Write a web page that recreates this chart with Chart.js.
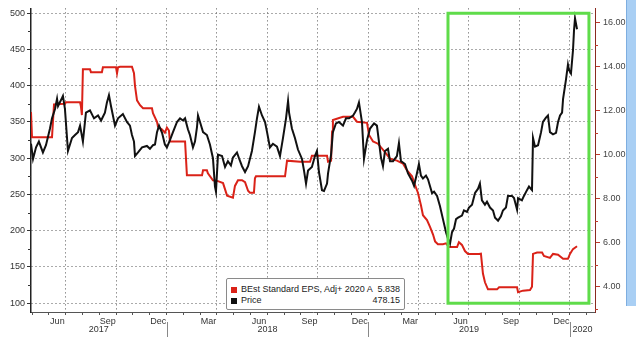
<!DOCTYPE html>
<html lang="en">
<head>
  <meta charset="UTF-8">
  <title>Price vs BEst Standard EPS</title>
  <script src="https://cdn.jsdelivr.net/npm/chart.js"></script>
  <style>
    body { margin: 0; background: #fff; font-family: "Liberation Sans", Arial, sans-serif; }
    #wrap { position: relative; width: 640px; height: 337px; overflow: hidden; }
    #bar { position: absolute; left: 626px; top: 0; width: 9px; height: 306px; background: #a9cff4; border-left: 1px solid #7eaee0; }
    #legend { position: absolute; left: 226px; top: 278px; width: 169px; height: 25px; padding: 5px 4px 0 4px;
              border: 1px solid #8a8a8a; border-radius: 2px; background: #fff; font-size: 9px; color: #222; }
    #legend .row { display: flex; align-items: center; height: 11px; line-height: 11px; }
    #legend .mark { width: 6px; height: 6px; margin-right: 4px; }
    #legend .name { flex: 1; white-space: nowrap; }
    #legend .val { text-align: right; }
  </style>
</head>
<body>
  <div id="wrap">
    <canvas id="chart" width="640" height="337"></canvas>
    <div id="bar"></div>
    <div id="legend"></div>
  </div>

  <script>
    // x = months since 1 Jan 2017
    const priceT = [
      3.93, 4.05, 4.23, 4.40, 4.64, 4.82, 5.06, 5.18, 5.36, 5.48,
      5.54, 5.77, 5.83, 5.95, 6.13, 6.37, 6.55, 6.73, 6.85, 7.02,
      7.20, 7.44, 7.68, 7.92, 8.10, 8.33, 8.45, 8.57, 8.69, 8.93,
      9.11, 9.40, 9.64, 9.82, 9.94, 10.06, 10.12, 10.30, 10.54, 10.83,
      11.01, 11.19, 11.31, 11.43, 11.55, 11.73, 11.90, 12.02, 12.20, 12.38,
      12.62, 12.80, 12.98, 13.10, 13.27, 13.39, 13.57, 13.69, 13.81, 13.87,
      13.99, 14.17, 14.40, 14.58, 14.76, 14.88, 14.94, 15.06, 15.30, 15.48,
      15.65, 15.83, 15.95, 16.19, 16.31, 16.49, 16.67, 16.85, 17.08, 17.26,
      17.38, 17.50, 17.68, 17.86, 17.98, 18.15, 18.33, 18.57, 18.75, 18.93,
      19.11, 19.23, 19.29, 19.46, 19.64, 19.82, 20.06, 20.18, 20.30, 20.42,
      20.65, 20.83, 20.95, 21.07, 21.25, 21.37, 21.55, 21.61, 21.79, 21.90,
      22.08, 22.26, 22.50, 22.68, 22.86, 23.10, 23.21, 23.33, 23.45, 23.63,
      23.75, 23.93, 24.11, 24.35, 24.52, 24.64, 24.76, 24.88, 25.00, 25.18,
      25.30, 25.48, 25.71, 25.83, 25.95, 26.19, 26.37, 26.61, 26.73, 26.90,
      27.02, 27.14, 27.26, 27.44, 27.56, 27.80, 27.92, 28.10, 28.27, 28.45,
      28.63, 28.75, 28.87, 28.99, 29.11, 29.23, 29.35, 29.58, 29.70, 29.88,
      30.00, 30.18, 30.36, 30.54, 30.65, 30.77, 30.95, 31.07, 31.25, 31.43,
      31.55, 31.73, 31.90, 32.02, 32.20, 32.32, 32.56, 32.68, 32.86, 32.92,
      33.15, 33.27, 33.45, 33.57, 33.75, 33.81, 33.93, 34.11, 34.29, 34.40,
      34.58, 34.70, 34.82, 35.00, 35.18, 35.30, 35.42, 35.54, 35.60, 35.77,
      35.89, 35.95, 36.07, 36.19, 36.25, 36.31, 36.43
    ];
    const priceV = [
      320, 299, 315, 323, 308, 318, 341, 355, 368, 382,
      372, 383, 386, 368, 310, 328, 332, 336, 345, 323,
      363, 366, 355, 359, 352, 363, 377, 387, 372, 345,
      355, 361, 350, 345, 332, 323, 303, 308, 315, 317,
      313, 318, 319, 336, 345, 335, 319, 315, 325, 336,
      350, 355, 352, 355, 340, 332, 315, 323, 343, 359,
      350, 336, 332, 319, 300, 261, 254, 305, 303, 288,
      296, 290, 301, 308, 300, 289, 281, 289, 310, 336,
      355, 371, 359, 350, 336, 315, 320, 316, 303, 328,
      355, 379, 363, 341, 328, 312, 299, 283, 265, 283,
      288, 303, 310, 281, 256, 255, 265, 279, 305, 336,
      348, 350, 345, 355, 355, 359, 363, 368, 377, 350,
      299, 325, 341, 348, 345, 323, 301, 289, 310, 313,
      296, 296, 303, 321, 296, 292, 279, 269, 262, 279,
      292, 276, 272, 276, 271, 252, 254, 248, 234, 216,
      198, 189, 182, 198, 203, 216, 218, 221, 228, 226,
      232, 236, 252, 258, 265, 242, 236, 240, 232, 228,
      218, 214, 220, 228, 232, 248, 248, 245, 229, 245,
      242, 248, 256, 261, 256, 328, 316, 318, 336, 350,
      356, 359, 336, 333, 335, 350, 359, 363, 382, 408,
      429, 422, 417, 449, 476, 493, 478
    ];

    const epsT = [
      3.93, 3.99, 5.18, 5.30, 5.95, 6.01, 6.85, 6.90, 6.96, 7.02,
      7.44, 7.50, 8.15, 8.21, 8.99, 9.05, 9.11, 9.23, 9.94, 10.06,
      10.12, 10.24, 10.42, 10.60, 11.13, 11.19, 11.43, 11.49, 11.73, 11.90,
      12.02, 12.14, 12.20, 13.10, 13.21, 14.11, 14.17, 14.40, 14.46, 14.76,
      15.06, 15.36, 15.60, 15.95, 16.07, 16.25, 16.49, 16.67, 16.85, 16.96,
      17.20, 17.26, 17.32, 19.05, 19.17, 19.94, 20.54, 20.65, 21.55, 21.61,
      21.79, 21.85, 21.90, 22.50, 23.10, 23.33, 23.93, 24.05, 24.29, 24.58,
      25.00, 25.30, 25.71, 26.07, 26.31, 26.61, 26.79, 26.96, 27.14, 27.26,
      27.50, 27.68, 27.86, 27.98, 28.15, 28.45, 28.63, 28.81, 29.29, 29.40,
      29.58, 29.76, 29.94, 30.60, 30.71, 30.83, 30.95, 31.13, 31.67, 31.79,
      32.86, 32.92, 33.21, 33.63, 33.75, 33.81, 34.05, 34.35, 34.46, 34.82,
      35.00, 35.30, 35.60, 35.89, 36.01, 36.19, 36.43
    ];
    const epsV = [
      11.94, 10.79, 10.79, 12.29, 12.32, 12.38, 12.38, 12.2, 11.8, 13.88,
      13.88, 13.75, 13.75, 13.97, 13.97, 13.7, 13.97, 14.0, 14.0, 13.7,
      13.13, 12.47, 12.25, 12.11, 12.11, 11.89, 11.5, 11.27, 11.14, 11.0,
      11.23, 11.1, 10.6, 10.6, 9.07, 9.07, 9.29, 9.29, 9.15, 8.84,
      8.80, 8.71, 8.14, 8.05, 8.58, 8.84, 8.84, 8.75, 8.36, 8.27,
      8.27, 8.93, 9.02, 9.02, 9.73, 9.68, 9.68, 9.95, 9.95, 9.68,
      9.72, 11.05, 11.58, 11.72, 11.72, 11.5, 11.45, 10.9, 10.6, 10.5,
      10.12, 9.82, 9.73, 9.6, 9.29, 9.02, 8.62, 8.27, 7.7, 7.25,
      7.03, 6.72, 6.37, 6.06, 5.93, 5.93, 5.97, 5.8, 5.8, 6.02,
      5.9, 5.62, 5.49, 5.49, 5.5, 4.6, 4.2, 3.88, 3.88, 3.97,
      3.97, 3.75, 3.82, 3.85, 4.0, 5.49, 5.55, 5.55, 5.4, 5.31,
      5.49, 5.45, 5.27, 5.27, 5.49, 5.71, 5.84
    ];

    const seriesNames = ['BEst Standard EPS, Adj+ 2020 A', 'Price'];
    const lastValues = ['5.838', '478.15'];
    const seriesColors = ['#da2218', '#111111'];

    const monthNames = ['Jan', 'Feb', 'Mar', 'Apr', 'May', 'Jun', 'Jul', 'Aug', 'Sep', 'Oct', 'Nov', 'Dec'];
    const labelledMonths = [2, 5, 8, 11];
    const years = [2017, 2018, 2019, 2020];
    const priceTicks = [100, 150, 200, 250, 300, 350, 400, 450, 500];
    const epsTicks = [4, 6, 8, 10, 12, 14, 16];

    // highlighted window (months / price)
    const boxFrom = 28.75, boxTo = 37.14, boxLow = 100, boxHigh = 500;

    const xMin = 3.93, xMax = 37.5;
    const tickFont = { family: 'Liberation Sans', size: 9 };

    // legend
    const legend = document.getElementById('legend');
    seriesNames.forEach((name, i) => {
      const row = document.createElement('div');
      row.className = 'row';
      row.innerHTML = '<span class="mark" style="background:' + seriesColors[i] + '"></span>' +
        '<span class="name">' + name + '</span><span class="val">' + lastValues[i] + '</span>';
      legend.appendChild(row);
    });

    // green box, minor ticks, year row
    const extras = {
      id: 'extras',
      afterDatasetsDraw(chart) {
        const { ctx, scales: { x, y } } = chart;
        const l = x.getPixelForValue(boxFrom), r = x.getPixelForValue(boxTo);
        const t = y.getPixelForValue(boxHigh), b = y.getPixelForValue(boxLow);
        ctx.save();
        ctx.strokeStyle = '#5fdc4a';
        ctx.lineWidth = 3;
        ctx.strokeRect(l, t, r - l, b - t);
        ctx.restore();
      },
      afterDraw(chart) {
        const { ctx, scales: { x, y, y1 } } = chart;
        ctx.save();
        ctx.lineWidth = 1;
        ctx.strokeStyle = '#333';
        for (let v = 125; v < 500; v += 50) {
          const py = Math.round(y.getPixelForValue(v)) + 0.5;
          ctx.beginPath(); ctx.moveTo(y.right - 3, py); ctx.lineTo(y.right, py); ctx.stroke();
        }
        ctx.strokeStyle = '#c0392b';
        for (let v = 3; v <= 15; v += 2) {
          const py = Math.round(y1.getPixelForValue(v)) + 0.5;
          ctx.beginPath(); ctx.moveTo(y1.left, py); ctx.lineTo(y1.left + 3, py); ctx.stroke();
        }
        ctx.fillStyle = '#333';
        ctx.font = '9px "Liberation Sans"';
        ctx.textAlign = 'center';
        ctx.textBaseline = 'middle';
        ctx.strokeStyle = '#888';
        years.forEach(yr => {
          const start = (yr - 2017) * 12;
          const s = Math.max(start, xMin), e = Math.min(start + 12, xMax);
          ctx.fillText(String(yr), (x.getPixelForValue(s) + x.getPixelForValue(e)) / 2, 330);
          if (start > xMin) {
            const px = Math.round(x.getPixelForValue(start)) + 0.5;
            ctx.beginPath(); ctx.moveTo(px, 322); ctx.lineTo(px, 337); ctx.stroke();
          }
        });
        ctx.restore();
      }
    };

    const months = [];
    for (let m = Math.ceil(xMin); m <= xMax; m++) months.push(m);

    new Chart(document.getElementById('chart'), {
      type: 'line',
      data: {
        datasets: [
          {
            label: seriesNames[0],
            data: epsT.map((t, i) => ({ x: t, y: epsV[i] })),
            yAxisID: 'y1',
            borderColor: seriesColors[0],
            borderWidth: 2,
            pointRadius: 0,
            tension: 0,
            order: 1
          },
          {
            label: seriesNames[1],
            data: priceT.map((t, i) => ({ x: t, y: priceV[i] })),
            yAxisID: 'y',
            borderColor: seriesColors[1],
            borderWidth: 2,
            pointRadius: 0,
            tension: 0,
            order: 0
          }
        ]
      },
      options: {
        responsive: false,
        animation: false,
        layout: { padding: 0 },
        plugins: { legend: { display: false }, tooltip: { enabled: false } },
        scales: {
          x: {
            type: 'linear',
            min: xMin,
            max: xMax,
            afterFit: s => { s.height = 25; },
            afterBuildTicks: s => { s.ticks = months.map(v => ({ value: v })); },
            grid: {
              color: c => (c.tick && c.tick.value % 3 === 0) ? '#555' : 'rgba(0,0,0,0)',
              tickColor: '#555',
              tickLength: 3
            },
            border: { color: '#555', dash: [1, 3] },
            ticks: {
              autoSkip: false,
              maxRotation: 0,
              padding: 1,
              labelOffset: 8.4,
              font: tickFont,
              color: '#333',
              callback: v => labelledMonths.includes(v % 12) ? monthNames[v % 12] : ''
            }
          },
          y: {
            position: 'left',
            min: 87.9,
            max: 506.7,
            afterFit: s => { s.width = 31; },
            afterBuildTicks: s => { s.ticks = priceTicks.map(v => ({ value: v })); },
            grid: { color: '#555', tickColor: '#333', tickLength: 4 },
            border: { color: '#222', width: 1.5, dash: [1, 3] },
            ticks: { padding: 2, font: tickFont, color: '#333' }
          },
          y1: {
            position: 'right',
            min: 2.85,
            max: 16.65,
            afterFit: s => { s.width = 45; },
            afterBuildTicks: s => { s.ticks = epsTicks.map(v => ({ value: v })); },
            grid: { drawOnChartArea: false, tickColor: '#c0392b', tickLength: 5 },
            border: { color: '#8b2a20' },
            ticks: { padding: 3, font: tickFont, color: '#444', callback: v => v.toFixed(2) }
          }
        }
      },
      plugins: [extras]
    });
  </script>
</body>
</html>
